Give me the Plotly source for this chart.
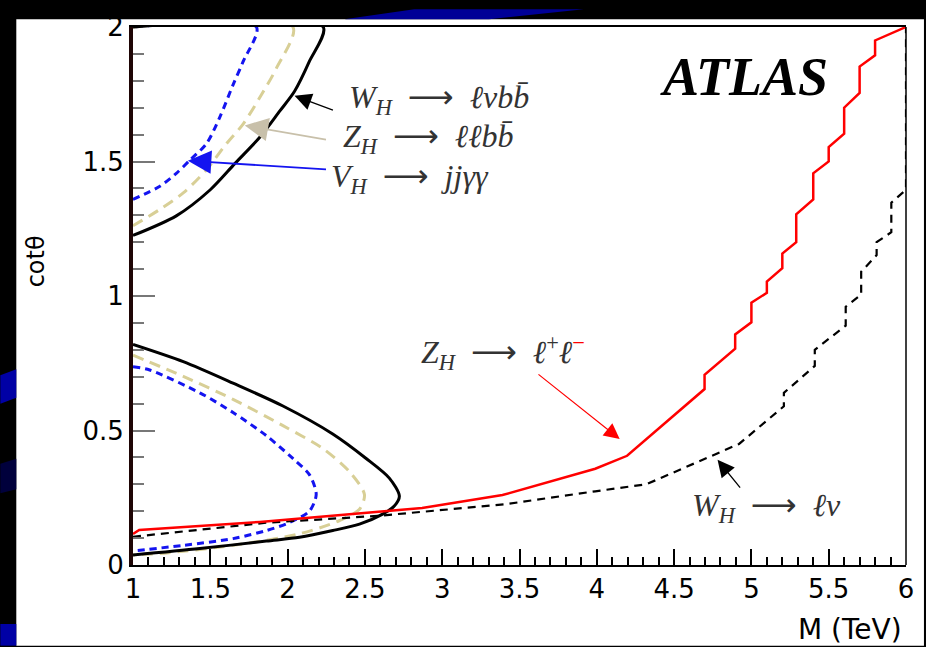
import plotly.graph_objects as go

# ---------------- data ----------------
# W_H -> l nu b bbar (black solid contour)
wlvbb_up_x = [1.0, 1.28, 1.50, 1.66, 1.82, 1.95, 2.045, 2.14, 2.23, 1.0]
wlvbb_up_y = [1.225, 1.298, 1.395, 1.493, 1.59, 1.688, 1.761, 1.871, 2.0, 2.0]
wlvbb_lo_x = [1.0, 1.325, 1.647, 1.970, 2.292, 2.508, 2.658, 2.723, 2.690, 2.615,
              2.465, 2.292, 2.077, 1.862, 1.432, 1.0]
wlvbb_lo_y = [0.820, 0.756, 0.676, 0.591, 0.487, 0.396, 0.323, 0.256, 0.219, 0.189,
              0.152, 0.128, 0.103, 0.089, 0.061, 0.037]

# Z_H -> l l b bbar (tan dashed contour)
zllbb_up_x = [1.0, 1.174, 1.325, 1.475, 1.604, 1.712, 1.819, 1.927, 2.034, 1.0]
zllbb_up_y = [1.261, 1.322, 1.383, 1.469, 1.566, 1.639, 1.737, 1.846, 2.0, 2.0]
zllbb_lo_x = [1.0, 1.325, 1.647, 1.970, 2.228, 2.40, 2.497, 2.465, 2.336, 2.077,
              1.647, 1.217, 1.0]
zllbb_lo_y = [0.780, 0.701, 0.616, 0.518, 0.433, 0.347, 0.262, 0.207, 0.165, 0.116,
              0.073, 0.045, 0.037]

# V_H -> j j gamma gamma (blue dashed contour)
vjjgg_up_x = [1.0, 1.174, 1.28, 1.368, 1.475, 1.561, 1.647, 1.712, 1.798, 1.0]
vjjgg_up_y = [1.359, 1.408, 1.456, 1.505, 1.566, 1.664, 1.785, 1.871, 2.0, 2.0]
vjjgg_lo_x = [1.0, 1.108, 1.432, 1.647, 1.862, 2.034, 2.142, 2.185, 2.142, 2.013,
              1.862, 1.647, 1.325, 1.0]
vjjgg_lo_y = [0.737, 0.725, 0.640, 0.567, 0.481, 0.396, 0.335, 0.262, 0.201, 0.158,
              0.128, 0.098, 0.073, 0.052]

# Z_H -> l+ l- (red solid)
zll_x = [1.0, 1.04, 1.82, 2.87, 3.39, 3.99, 4.196, 4.697, 4.697, 4.895, 4.895,
         5.0, 5.0, 5.10, 5.10, 5.20, 5.20, 5.29, 5.29, 5.40, 5.40, 5.50, 5.50,
         5.60, 5.60, 5.70, 5.70, 5.80, 5.80, 6.0]
zll_y = [0.115, 0.13, 0.16, 0.212, 0.26, 0.358, 0.406, 0.654, 0.707, 0.804, 0.857,
         0.902, 0.975, 1.012, 1.054, 1.103, 1.158, 1.20, 1.304, 1.359, 1.456, 1.50,
         1.554, 1.603, 1.70, 1.755, 1.853, 1.895, 1.95, 2.0]

# W_H -> l nu (black dashed)
wlv_x = [1.0, 1.86, 2.59, 3.41, 3.99, 4.32, 4.92, 5.21, 5.21, 5.41, 5.41, 5.61, 5.61,
         5.71, 5.71, 5.81, 5.81, 5.905, 5.905, 6.0, 6.0]
wlv_y = [0.105, 0.157, 0.183, 0.226, 0.274, 0.30, 0.45, 0.59, 0.64, 0.74, 0.80, 0.89,
         0.96, 1.005, 1.09, 1.152, 1.20, 1.237, 1.347, 1.395, 2.0]

x_range = [1, 6]
y_range = [0, 2]

# ---------------- layout geometry ----------------
W, H = 926, 647
L, R, T, B = 133, 18, 18, 82
PW = W - L - R
PH = H - T - B


def px(xp, yp):
    return (xp - L) / PW, (H - B - yp) / PH


def path(points):
    s = ""
    for i, (a, b) in enumerate(points):
        x, y = px(a, b)
        s += ("M" if i == 0 else "L") + f"{x:.5f},{y:.5f} "
    return s + "Z"


TAN = "rgb(216,207,150)"
BLUE = "rgb(20,20,240)"

fig = go.Figure()

def add(x, y, color, width, dash="solid", shape="linear"):
    fig.add_trace(go.Scatter(x=x, y=y, mode="lines",
                             line=dict(color=color, width=width, dash=dash,
                                       shape=shape, smoothing=0.8),
                             hoverinfo="skip", showlegend=False))

add(vjjgg_up_x, vjjgg_up_y, BLUE, 3, "7px,5px", "spline")
add(vjjgg_lo_x, vjjgg_lo_y, BLUE, 3, "7px,5px", "spline")
add(zllbb_up_x, zllbb_up_y, TAN, 3, "11px,7px", "spline")
add(zllbb_lo_x, zllbb_lo_y, TAN, 3, "11px,7px", "spline")
add(wlvbb_up_x, wlvbb_up_y, "black", 3, "solid", "spline")
add(wlvbb_lo_x, wlvbb_lo_y, "black", 3, "solid", "spline")
add(wlv_x, wlv_y, "black", 2.2, "8px,6px")
add(zll_x, zll_y, "rgb(255,0,0)", 2.5)

shapes = [
    dict(type="path", xref="paper", yref="paper", layer="below",
         path=path([(16, 10), (926, 10), (926, 647), (16, 647)]),
         fillcolor="white", line=dict(width=0)),
    # decorative blue stripes of the slide background
    dict(type="path", xref="paper", yref="paper", layer="below",
         path=path([(0, 372), (16, 366), (16, 395), (0, 401)]),
         fillcolor="rgb(0,0,165)", line=dict(width=0)),
    dict(type="path", xref="paper", yref="paper", layer="below",
         path=path([(0, 462), (16, 457), (16, 488), (0, 492)]),
         fillcolor="rgb(0,0,60)", line=dict(width=0)),
    dict(type="path", xref="paper", yref="paper", layer="below",
         path=path([(0, 625), (16, 625), (16, 647), (0, 647)]),
         fillcolor="rgb(0,0,165)", line=dict(width=0)),
    dict(type="path", xref="paper", yref="paper", layer="below",
         path=path([(345, 10), (415, 0), (585, 0), (490, 10)]),
         fillcolor="rgb(0,0,150)", line=dict(width=0)),
    # right frame line
    dict(type="line", xref="paper", yref="paper", x0=1, x1=1, y0=0, y1=1,
         line=dict(color="black", width=1.5)),
]

MATHF = dict(family="Liberation Serif", size=32, color="#333333")
SP = "\u2002"
ARR = "<span style='font-family:DejaVu Sans'>⟶</span>"

annotations = []

def arrow(xt, yt, xa, ya, color, width=1.3):
    annotations.append(dict(x=xt, y=yt, ax=xa, ay=ya, xref="x", yref="y",
                            axref="x", ayref="y", text="", showarrow=True,
                            arrowhead=2, arrowsize=2.6, arrowwidth=width,
                            arrowcolor=color))

def label(x, y, text, font=MATHF, xanchor="left"):
    annotations.append(dict(x=x, y=y, xref="x", yref="y", text=text,
                            showarrow=False, xanchor=xanchor, yanchor="middle",
                            font=font))

arrow(2.045, 1.744, 2.303, 1.689, "black")
arrow(1.723, 1.634, 2.258, 1.580, "rgb(200,192,170)", 1.8)
arrow(1.355, 1.503, 2.258, 1.470, BLUE, 1.8)
arrow(4.148, 0.468, 3.613, 0.713, "red", 1.2)
arrow(4.781, 0.391, 4.935, 0.282, "black", 1.3)

label(2.385, 1.732, f"<i>W<sub>H</sub></i>{SP}{ARR}{SP}<i>ℓνbb̄</i>")
label(2.345, 1.587, f"<i>Z<sub>H</sub></i>{SP}{ARR}{SP}<i>ℓℓbb̄</i>")
label(2.265, 1.437, f"<i>V<sub>H</sub></i>{SP}{ARR}{SP}<i>jjγγ</i>")
label(2.85, 0.79,
      f"<i>Z<sub>H</sub></i>{SP}{ARR}{SP}<i>ℓ</i><sup>+</sup><i>ℓ</i><sup><span style='color:red'>−</span></sup>")
label(4.605, 0.215, f"<i>W<sub>H</sub></i>{SP}{ARR}{SP}<i>ℓν</i>")

annotations.append(dict(x=4.95, y=1.815, xref="x", yref="y", text="<b><i>ATLAS</i></b>",
                        showarrow=False, xanchor="center", yanchor="middle",
                        font=dict(family="Liberation Serif", size=54, color="black")))

ax_x, ax_y = px(906, 631)
annotations.append(dict(x=ax_x, y=ax_y, xref="paper", yref="paper", text="M (TeV)",
                        showarrow=False, xanchor="right", yanchor="middle",
                        font=dict(family="DejaVu Sans", size=28, color="black")))
ay_x, ay_y = px(36, 256)
annotations.append(dict(x=ay_x, y=ay_y, xref="paper", yref="paper", text="cotθ",
                        showarrow=False, xanchor="center", yanchor="middle",
                        textangle=-90,
                        font=dict(family="DejaVu Sans", size=24, color="black")))

fig.update_layout(
    width=W, height=H,
    margin=dict(l=L, r=R, t=T, b=B, pad=0),
    paper_bgcolor="black",
    plot_bgcolor="rgba(0,0,0,0)",
    shapes=shapes,
    annotations=annotations,
    showlegend=False,
    xaxis=dict(range=x_range, showgrid=False, zeroline=False,
               showline=True, linecolor="black", linewidth=2, mirror=True,
               ticks="inside", ticklen=16, tickwidth=1.5, tickcolor="black",
               dtick=0.5, tick0=1,
               minor=dict(ticks="inside", ticklen=8, dtick=0.1, tickcolor="black",
                          tickwidth=1.5),
               tickfont=dict(family="DejaVu Sans", size=26, color="black")),
    yaxis=dict(range=y_range, showgrid=False, zeroline=False,
               showline=True, linecolor="rgb(30,5,5)", linewidth=4,
               ticks="inside", ticklen=22, tickwidth=1.5, tickcolor="#777777",
               dtick=0.5, tick0=0,
               minor=dict(ticks="inside", ticklen=11, dtick=0.1, tickcolor="#777777",
                          tickwidth=1.5),
               tickfont=dict(family="DejaVu Sans", size=26, color="black")),
)

fig.write_html("out.html", config={"displayModeBar": False},
               post_script="document.body.style.margin='0';document.body.style.padding='0';")
